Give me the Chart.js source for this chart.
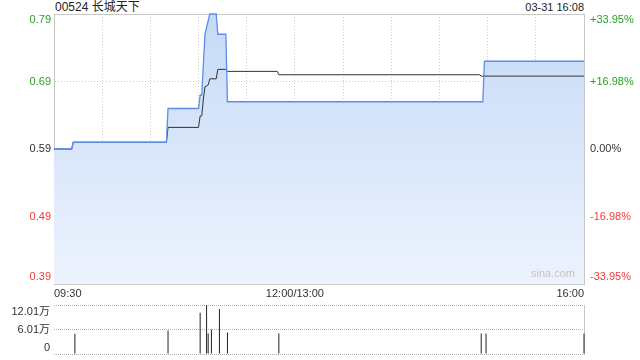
<!DOCTYPE html>
<html>
<head>
<meta charset="utf-8">
<script src="https://cdn.jsdelivr.net/npm/chart.js@4.4.1/dist/chart.umd.min.js"></script>
<style>
  body { margin: 0; background: #fff; width: 640px; height: 360px; position: relative; overflow: hidden;
         font-family: Arial, "Liberation Sans", "Noto Sans CJK SC", sans-serif; }
  #title { position: absolute; left: 55px; top: 0; font-size: 12px; line-height: 14px; color: #222; }
  #stamp { position: absolute; right: 56px; top: 0; font-size: 11px; line-height: 14px; color: #222; }
  #mainChart { position: absolute; left: 0; top: 0; }
  #volChart { position: absolute; left: 0; top: 296px; }
</style>
</head>
<body>
<div id="title">00524 长城天下</div>
<div id="stamp">03-31 16:08</div>
<canvas id="mainChart" width="640" height="300"></canvas>
<canvas id="volChart" width="640" height="64"></canvas>
<script>
// price line (blue)
const priceTimes = ['09:30','09:41','09:42','10:40','10:41','11:00','11:01','11:02','11:04','11:06','11:07','11:11','11:12','11:17','11:18','14:57','14:58','16:00'];
const priceValues = [0.59,0.59,0.60,0.60,0.65,0.65,0.67,0.67,0.76,0.78,0.79,0.79,0.76,0.76,0.66,0.66,0.72,0.72];

// average price line (black)
const avgTimes = ['09:30','09:41','09:42','10:40','10:41','11:00','11:01','11:02','11:03','11:04','11:06','11:07','11:11','11:12','11:17','11:18','11:49','11:50','14:55','14:56','16:00'];
const avgValues = [0.59,0.59,0.60,0.60,0.622,0.622,0.639,0.639,0.664,0.682,0.685,0.694,0.694,0.708,0.708,0.705,0.705,0.700,0.700,0.698,0.698];

// volume, in 万
const volTimes = ['09:43','10:41','11:01','11:05','11:06','11:08','11:13','11:18','11:50','14:56','14:59','16:00'];
const volValues = [4.97,5.77,10.1,12.01,5.05,6.0,11.06,5.3,5.05,5.05,5.05,5.05];

// axis labels
const priceTicks = [0.39, 0.49, 0.59, 0.69, 0.79];
const priceTickLabels = ['0.39','0.49','0.59','0.69','0.79'];
const pctTickLabels = ['-33.95%','-16.98%','0.00%','+16.98%','+33.95%'];
const xTickLabels = ['09:30', '12:00/13:00', '16:00'];
const volTicks = [0, 6.005, 12.01];
const volTickLabels = ['0', '6.01万', '12.01万'];

const GREEN = '#27a327', RED = '#f03a3a', DARK = '#333';
const tickColors = [RED, RED, DARK, GREEN, GREEN];

Chart.defaults.font.family = 'Arial, "Liberation Sans", "Noto Sans CJK SC", sans-serif';
Chart.defaults.font.size = 11;

// trading minutes since 09:30, lunch break squeezed out
function toMinute(t) {
  const [h, m] = t.split(':').map(Number);
  const mins = h * 60 + m;
  return mins <= 720 ? mins - 570 : mins - 630;
}
const pts = (times, vals) => times.map((t, i) => ({ x: toMinute(t), y: vals[i] }));

// first / last label nudged inside the plot like the original
function edgeLabel(text, i, n) {
  if (i === 0) return [text, ''];
  if (i === n - 1) return ['', text];
  return text;
}

// fixed axis boxes so the plot sits where the original does
const fixWidth = (w) => (s) => { s.width = w; s.paddingTop = 0; s.paddingBottom = 0; };

const sinaMark = {
  id: 'sinaMark',
  afterDatasetsDraw(chart) {
    const { ctx, chartArea: a } = chart;
    ctx.save();
    ctx.font = '11px Arial, "Liberation Sans", sans-serif';
    ctx.fillStyle = '#c4c4c4';
    ctx.textAlign = 'right';
    ctx.textBaseline = 'middle';
    ctx.fillText('sina.com', a.right - 9, a.bottom - 10);
    ctx.restore();
  }
};

new Chart(document.getElementById('mainChart'), {
  type: 'line',
  data: {
    datasets: [
      {
        data: pts(priceTimes, priceValues),
        borderColor: '#5b8fe6', borderWidth: 1.3, pointRadius: 0, tension: 0,
        fill: 'start', clip: false,
        backgroundColor: (c) => {
          const a = c.chart.chartArea;
          if (!a) return 'rgba(0,0,0,0)';
          const g = c.chart.ctx.createLinearGradient(0, a.top, 0, a.bottom);
          g.addColorStop(0, '#c6daf7');
          g.addColorStop(1, '#edf3fd');
          return g;
        }
      },
      {
        data: pts(avgTimes, avgValues),
        borderColor: '#333', borderWidth: 1, pointRadius: 0, tension: 0, fill: false
      }
    ]
  },
  options: {
    responsive: false,
    animation: false,
    layout: { padding: { top: 14 } },
    plugins: {
      legend: { display: false },
      tooltip: { enabled: false },
      filler: { drawTime: 'beforeDatasetsDraw' }
    },
    scales: {
      x: {
        type: 'linear', min: 0, max: 330,
        afterFit: (s) => { s.height = 16; },
        ticks: {
          stepSize: 30, autoSkip: false, maxRotation: 0, minRotation: 0,
          align: 'inner', padding: 3, color: DARK,
          callback: (v) => v === 0 ? xTickLabels[0] : v === 150 ? xTickLabels[1] : v === 330 ? xTickLabels[2] : ''
        },
        grid: {
          drawTicks: false,
          color: (c) => (c.index === 0 || c.index === 11) ? '#c8c8c8' : '#cfcfcf'
        },
        border: {
          display: true, color: '#c8c8c8',
          dash: (c) => (c.index === 0 || c.index === 11) ? [] : [1, 2]
        }
      },
      y: {
        position: 'left', min: 0.39, max: 0.79,
        afterFit: fixWidth(54),
        afterBuildTicks: (s) => { s.ticks = priceTicks.map(v => ({ value: v })); },
        ticks: {
          padding: 3, autoSkip: false,
          color: (c) => tickColors[c.index],
          font: (c) => ({ size: 11, lineHeight: c.index === 0 ? '13.4px' : '11px' }),
          callback: (v, i) => edgeLabel(priceTickLabels[i], i, priceTickLabels.length)
        },
        grid: {
          drawTicks: false,
          color: (c) => c.index === 2 ? '#a0a0a0' : (c.index === 0 || c.index === 4) ? '#c8c8c8' : '#cfcfcf'
        },
        border: {
          display: true, color: '#c8c8c8',
          dash: (c) => c.index === 2 ? [3, 2] : (c.index === 0 || c.index === 4) ? [] : [1, 2]
        }
      },
      y1: {
        position: 'right', min: 0.39, max: 0.79,
        afterFit: fixWidth(56),
        afterBuildTicks: (s) => { s.ticks = priceTicks.map(v => ({ value: v })); },
        ticks: {
          padding: 6, autoSkip: false,
          color: (c) => tickColors[c.index],
          font: (c) => ({ size: 11, lineHeight: c.index === 0 ? '13.4px' : '11px' }),
          callback: (v, i) => edgeLabel(pctTickLabels[i], i, pctTickLabels.length)
        },
        grid: { display: false, drawTicks: false },
        border: { display: true, color: '#c8c8c8' }
      }
    }
  },
  plugins: [sinaMark]
});

new Chart(document.getElementById('volChart'), {
  type: 'bar',
  data: {
    datasets: [{
      data: pts(volTimes, volValues),
      backgroundColor: '#222', borderWidth: 0, barThickness: 1, inflateAmount: 0, clip: false
    }]
  },
  options: {
    responsive: false,
    animation: false,
    layout: { padding: { top: 9, bottom: 6 } },
    plugins: { legend: { display: false }, tooltip: { enabled: false } },
    scales: {
      x: { type: 'linear', min: 0, max: 330, offset: false, display: false, grid: { offset: false } },
      y: {
        position: 'left', min: 0, max: 12.01,
        afterFit: fixWidth(54),
        afterBuildTicks: (s) => { s.ticks = volTicks.map(v => ({ value: v })); },
        ticks: {
          padding: 4, color: DARK, autoSkip: false,
          font: (c) => ({ size: 11, lineHeight: c.index === 0 ? '11.4px' : '13.4px' }),
          callback: (v, i) => edgeLabel(volTickLabels[i], i, volTickLabels.length)
        },
        grid: { drawTicks: false, color: '#b0b0b0' },
        border: { display: false, dash: [1, 1] }
      },
      y1: {
        position: 'right', min: 0, max: 12.01,
        afterFit: fixWidth(56),
        ticks: { display: false },
        grid: { display: false, drawTicks: false },
        border: { display: true, color: '#c8c8c8' }
      }
    }
  }
});
</script>
</body>
</html>
